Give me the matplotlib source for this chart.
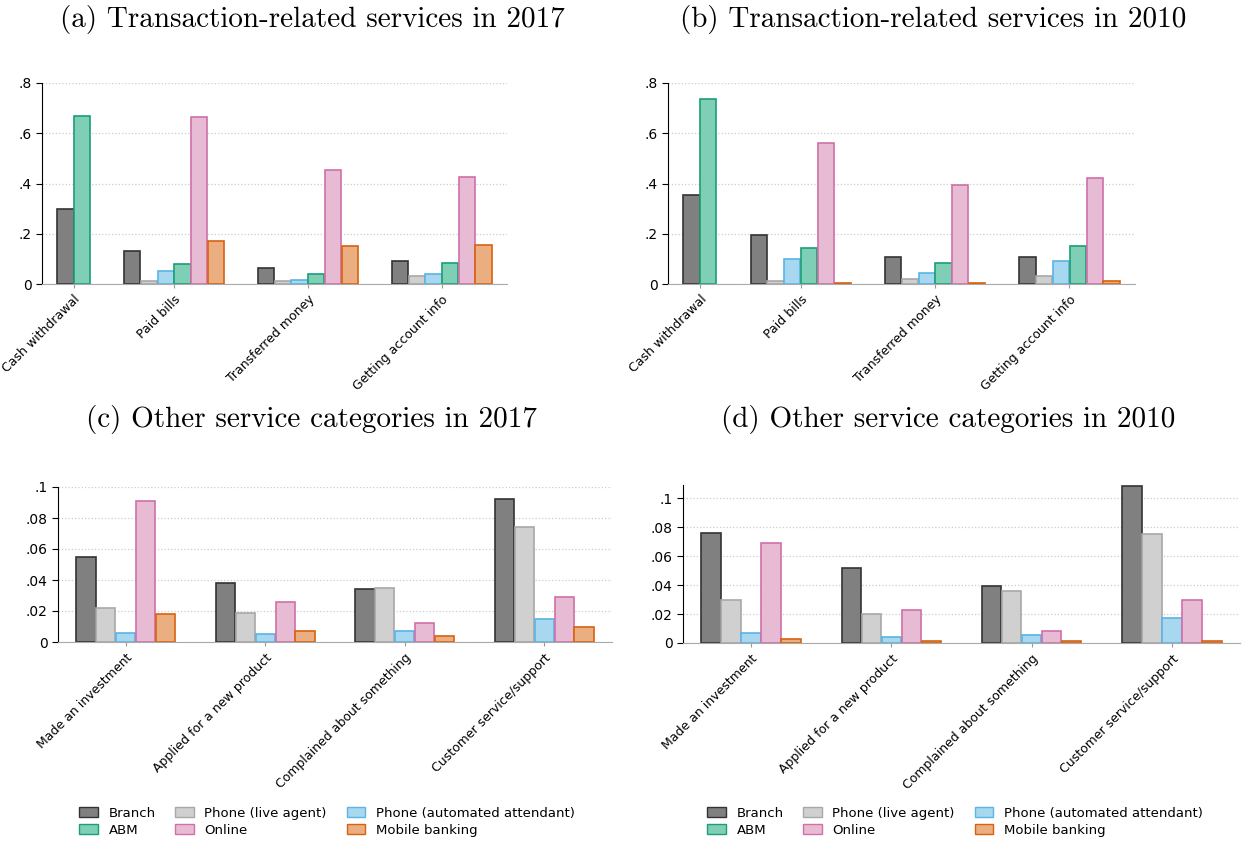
import numpy as np
import matplotlib.pyplot as plt
from matplotlib.patches import Patch

channels = ['Branch', 'Phone (live agent)', 'Phone (automated attendant)', 'ABM', 'Online', 'Mobile banking']
fills = ['#808080', '#d0d0d0', '#a8d8f0', '#7fcfb7', '#e8bbd4', '#eaae80']
edges = ['#333333', '#a8a8a8', '#5ab4e5', '#1a9e77', '#d06fa8', '#d8620e']

trans_cats = ['Cash withdrawal', 'Paid bills', 'Transferred money', 'Getting account info']
other_cats = ['Made an investment', 'Applied for a new product', 'Complained about something', 'Customer service/support']

# None = channel not asked for that service
trans_2017 = [[0.30, None, None, 0.67, None, None],
              [0.13, 0.010, 0.052, 0.078, 0.665, 0.170],
              [0.065, 0.010, 0.017, 0.038, 0.452, 0.150],
              [0.090, 0.030, 0.040, 0.083, 0.427, 0.154]]
trans_2010 = [[0.355, None, None, 0.737, None, None],
              [0.197, 0.010, 0.100, 0.145, 0.560, 0.005],
              [0.107, 0.018, 0.042, 0.085, 0.393, 0.005],
              [0.107, 0.033, 0.090, 0.153, 0.423, 0.012]]
other_2017 = [[0.055, 0.022, 0.006, None, 0.091, 0.018],
              [0.038, 0.019, 0.005, None, 0.026, 0.007],
              [0.034, 0.035, 0.007, None, 0.012, 0.004],
              [0.092, 0.074, 0.015, None, 0.029, 0.010]]
other_2010 = [[0.076, 0.030, 0.007, None, 0.069, 0.003],
              [0.052, 0.020, 0.004, None, 0.023, 0.0015],
              [0.039, 0.036, 0.0055, None, 0.0085, 0.0015],
              [0.108, 0.075, 0.017, None, 0.030, 0.0015]]

fig = plt.figure(figsize=(12.43, 8.43), dpi=100)
W, H = 1243, 843

def px_axes(l, t, r, b):
    return fig.add_axes([l / W, 1 - b / H, (r - l) / W, (b - t) / H])

def draw(ax, data, cats, ymax, step, fmt):
    x = 0
    centers = []
    for row in data:
        start = x
        for k, v in enumerate(row):
            if v is None:
                continue
            ax.bar(x + 0.5, v, width=0.97, color=fills[k], edgecolor=edges[k], linewidth=1.2)
            x += 1
        centers.append((start + x) / 2)
        x += 2
    ax.set_xlim(-0.9, x - 2 + 0.9)
    ax.set_ylim(0, ymax)
    ticks = np.arange(0, ymax + 1e-9, step)
    ax.set_yticks(ticks)
    ax.set_yticklabels([fmt(t) for t in ticks], fontsize=10)
    ax.set_xticks(centers)
    ax.set_xticklabels(cats, rotation=45, ha='right', rotation_mode='anchor', fontsize=9)
    ax.tick_params(axis='x', length=3, color='#999999')
    ax.tick_params(axis='y', length=4)
    for s in ['top', 'right']:
        ax.spines[s].set_visible(False)
    ax.spines['bottom'].set_color('#aaaaaa')
    ax.yaxis.grid(True, linestyle=':', color='#cccccc', linewidth=0.9)
    ax.set_axisbelow(True)

def lab(t):
    s = ('%.2f' % t).rstrip('0').rstrip('.')
    return '0' if t == 0 else s.lstrip('0')

ax1 = px_axes(42, 83, 507, 284)
draw(ax1, trans_2017, trans_cats, 0.8, 0.2, lab)
ax2 = px_axes(668, 83, 1135, 284)
draw(ax2, trans_2010, trans_cats, 0.8, 0.2, lab)
ax3 = px_axes(58, 487, 612, 642)
draw(ax3, other_2017, other_cats, 0.1, 0.02, lab)
ax4 = px_axes(683, 485, 1240, 643)
draw(ax4, other_2010, other_cats, 0.109, 0.02, lab)

titles = [('(a) Transaction-related services in 2017', 312, 20),
          ('(b) Transaction-related services in 2010', 933, 20),
          ('(c) Other service categories in 2017', 312, 420),
          ('(d) Other service categories in 2010', 948, 420)]
for t, tx, ty in titles:
    fig.text(tx / W, 1 - ty / H, t, fontsize=21, family='cmr10', ha='center', va='center')

order = [0, 3, 1, 4, 2, 5]
handles = [Patch(facecolor=fills[k], edgecolor=edges[k], label=channels[k]) for k in order]
for cx in (327 / W, 955 / W):
    fig.legend(handles=handles, loc='center', bbox_to_anchor=(cx, 1 - 822 / H), ncol=3,
               frameon=False, fontsize=9.5, handlelength=1.4, handleheight=0.8,
               columnspacing=1.5, labelspacing=0.3)

fig.savefig('out.png', dpi=100)
